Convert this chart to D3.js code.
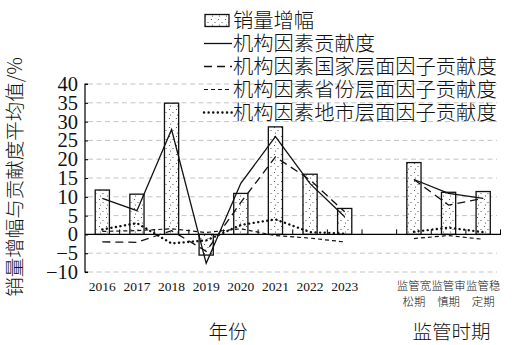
<!DOCTYPE html>
<html><head><meta charset="utf-8">
<script src="https://cdn.jsdelivr.net/npm/d3@7/dist/d3.min.js"></script>
<style>body{margin:0;background:#fff}svg{display:block}</style>
</head><body>
<script>
// ---- data ----
const years = ["2016","2017","2018","2019","2020","2021","2022","2023"];
const periods = ["监管宽松期","监管审慎期","监管稳定期"];
const periodLines = [["监管宽","松期"],["监管审","慎期"],["监管稳","定期"]];
const yTicks = [-10,-5,0,5,10,15,20,25,30,35,40];

const growthYears   = [11.8, 10.7, 34.9, -5.5, 10.9, 28.6, 16.0, 6.9];
const growthPeriods = [19.1, 11.2, 11.4];
const totalYears    = [9.6, 6.3, 27.9, -7.7, 13.6, 26.0, 13.5, 4.7];
const totalPeriods  = [14.6, 10.9, 9.6];
const nationalYears   = [-2.0, -2.1, 1.0, -4.5, 8.5, 20.6, 14.5, 6.0];
const nationalPeriods = [14.6, 7.8, 9.6];
const provinceYears   = [0.8, 1.0, 1.5, 0.5, 1.5, -0.3, -1.0, -2.0];
const provincePeriods = [-1.1, -0.3, -1.3];
const cityYears   = [1.3, 3.0, -2.4, -1.6, 2.5, 4.0, 0.6, 0.2];
const cityPeriods = [0.7, 1.8, 0.6];

const legendLabels = ["销量增幅","机构因素贡献度","机构因素国家层面因子贡献度","机构因素省份层面因子贡献度","机构因素地市层面因子贡献度"];
const xTitles = ["年份","监管时期"];
const yTitle = "销量增幅与贡献度平均值/%";

// ---- setup ----
const W = 513, H = 345;
const svg = d3.select("body").append("svg").attr("width", W).attr("height", H);
const cjk = "'Noto Sans CJK SC','Noto Sans',sans-serif";
const serif = "'Liberation Serif','DejaVu Serif',serif";

const defs = svg.append("defs");
const pat = defs.append("pattern").attr("id","dots").attr("patternUnits","userSpaceOnUse")
  .attr("width",7).attr("height",9);
pat.append("rect").attr("width",7).attr("height",9).attr("fill","#fff");
[[1.5,1.5],[5,4.5],[2.5,7]].forEach(p=>pat.append("circle").attr("cx",p[0]).attr("cy",p[1]).attr("r",0.6).attr("fill","#444"));

const slots = [...years, "_gap", ...periods];
const x = d3.scaleBand().domain(slots).range([85, 500.5]).padding(0);
const y = d3.scaleLinear().domain([-10, 40]).range([272, 84]);
const bw = x.bandwidth() * 0.41;

// gridlines
svg.append("g").selectAll("line").data(yTicks.filter(d => d !== 0)).join("line")
  .attr("x1", 88).attr("x2", 497).attr("y1", d => y(d)).attr("y2", d => y(d))
  .attr("stroke", "#c4c4c4").attr("stroke-width", 1).attr("stroke-dasharray", "5,3.5");

// y axis
const yAxis = svg.append("g").attr("transform", "translate(85,0)")
  .call(d3.axisRight(y).tickValues(yTicks).tickSize(3).tickFormat(""));
yAxis.select(".domain").attr("stroke","#000").attr("stroke-width",1.2).attr("d", `M3,${y(-10)}H0V${y(40)}H3`);
yAxis.selectAll(".tick line").attr("stroke","#000").attr("stroke-width",1.1);
svg.append("g").selectAll("text").data(yTicks).join("text")
  .attr("x", 78).attr("y", d => y(d)).attr("dy", "0.34em").attr("text-anchor", "end")
  .attr("font-family", serif).attr("font-size", 20.5).attr("fill", "#111")
  .text(d => d < 0 ? "\u2212" + Math.abs(d) : d);

// bars
const barData = [...years.map((c,i)=>({c, v: growthYears[i]})), ...periods.map((c,i)=>({c, v: growthPeriods[i]}))];
svg.append("g").selectAll("rect").data(barData).join("rect")
  .attr("x", d => x(d.c) + (x.bandwidth() - bw) / 2).attr("width", bw)
  .attr("y", d => Math.min(y(d.v), y(0))).attr("height", d => Math.abs(y(d.v) - y(0)))
  .attr("fill", "url(#dots)").attr("stroke", "#111").attr("stroke-width", 1.3);

// zero line with inward ticks at band boundaries
svg.append("line").attr("x1", 85).attr("x2", 501).attr("y1", y(0)).attr("y2", y(0))
  .attr("stroke", "#000").attr("stroke-width", 1.3);
const bounds = slots.map(s => x(s)).concat([x.range()[1]]);
svg.append("g").selectAll("line").data(bounds.slice(1)).join("line")
  .attr("x1", d => d).attr("x2", d => d).attr("y1", y(0)).attr("y2", y(0) - 5)
  .attr("stroke", "#000").attr("stroke-width", 1);

// lines
const styles = [
  {yearsV: totalYears, perV: totalPeriods, dash: null, w: 1.3, cap: "butt"},
  {yearsV: nationalYears, perV: nationalPeriods, dash: "8,5", w: 1.3, cap: "butt"},
  {yearsV: provinceYears, perV: provincePeriods, dash: "4,3", w: 1.2, cap: "butt"},
  {yearsV: cityYears, perV: cityPeriods, dash: "0.1,4.5", w: 2.4, cap: "round"}
];
const line = d3.line().x(d => x(d.c) + x.bandwidth() / 2).y(d => y(d.v));
styles.forEach(s => {
  [years.map((c,i)=>({c, v: s.yearsV[i]})), periods.map((c,i)=>({c, v: s.perV[i]}))].forEach(seg => {
    svg.append("path").datum(seg).attr("d", line).attr("fill", "none")
      .attr("stroke", "#111").attr("stroke-width", s.w).attr("stroke-linecap", s.cap)
      .attr("stroke-dasharray", s.dash);
  });
});

// x labels
svg.append("g").selectAll("text").data(years).join("text")
  .attr("x", d => x(d) + x.bandwidth() / 2).attr("y", 291).attr("text-anchor", "middle")
  .attr("font-family", serif).attr("font-size", 13.5).attr("fill", "#111").text(d => d);
periods.forEach((p, i) => {
  const t = svg.append("text").attr("x", x(p) + x.bandwidth() / 2).attr("y", 290)
    .attr("text-anchor", "middle").attr("font-family", cjk).attr("font-weight", 300)
    .attr("font-size", 11.4).attr("fill", "#111");
  periodLines[i].forEach((l, j) => t.append("tspan").attr("x", x(p) + x.bandwidth() / 2).attr("dy", j ? 16 : 0).text(l));
});
svg.append("text").attr("x", 228).attr("y", 332).attr("dy", "0.36em").attr("text-anchor", "middle")
  .attr("font-family", cjk).attr("font-weight", 300).attr("font-size", 19.5).attr("fill", "#111").text(xTitles[0]);
svg.append("text").attr("x", 451.5).attr("y", 332).attr("dy", "0.36em").attr("text-anchor", "middle")
  .attr("font-family", cjk).attr("font-weight", 300).attr("font-size", 19.5).attr("fill", "#111").text(xTitles[1]);

// y title
svg.append("text").attr("transform", "translate(15,177) rotate(-90)").attr("text-anchor", "middle")
  .attr("dy", "0.36em").attr("font-family", cjk).attr("font-weight", 300).attr("font-size", 19.5)
  .attr("fill", "#111").text(yTitle);

// legend
const lg = svg.append("g");
const rowY = i => 20.5 + i * 23;
lg.selectAll("text").data(legendLabels).join("text")
  .attr("x", 233).attr("y", (d, i) => rowY(i)).attr("dy", "0.36em")
  .attr("font-family", cjk).attr("font-weight", 300).attr("font-size", 20.3).attr("fill", "#111").text(d => d);
lg.append("rect").attr("x", 205).attr("y", rowY(0) - 6).attr("width", 24).attr("height", 12)
  .attr("fill", "url(#dots)").attr("stroke", "#111").attr("stroke-width", 1.3);
styles.forEach((s, i) => {
  lg.append("line").attr("x1", 204).attr("x2", 232).attr("y1", rowY(i + 1)).attr("y2", rowY(i + 1))
    .attr("stroke", "#111").attr("stroke-width", s.w).attr("stroke-linecap", s.cap)
    .attr("stroke-dasharray", s.dash);
});
</script>
</body></html>
